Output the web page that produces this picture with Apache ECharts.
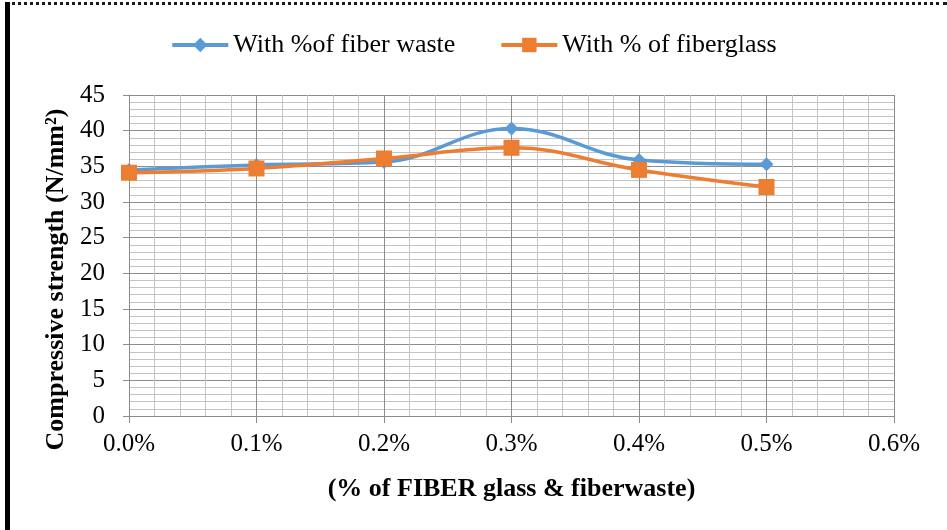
<!DOCTYPE html>
<html>
<head>
<meta charset="utf-8">
<script src="https://cdn.jsdelivr.net/npm/echarts@6/dist/echarts.min.js"></script>
<style>
  html, body { margin: 0; padding: 0; background: #fff; }
  #wrap { position: relative; width: 947px; height: 530px; overflow: hidden; }
  #chart { position: absolute; left: 0; top: 0; width: 947px; height: 530px; }
  #frameTop { position: absolute; left: 5px; top: 2px; width: 942px; height: 0; border-top: 3px dotted #1a1a1a; }
  #frameLeft { position: absolute; left: 5px; top: 2px; width: 5px; height: 528px; background: #000; }
</style>
</head>
<body>
<div id="wrap">
  <div id="chart"></div>
  <div id="frameTop"></div>
  <div id="frameLeft"></div>
</div>
<script>
// Fiber content (%) at each test point
const fiberContent = [0.0, 0.1, 0.2, 0.3, 0.4, 0.5];
// Compressive strength (N/mm²)
const fiberWaste = [34.5, 35.2, 35.6, 40.3, 35.9, 35.3];
const fiberGlass = [34.1, 34.7, 36.1, 37.6, 34.5, 32.1];
const seriesNames = ['With %of fiber waste', 'With % of fiberglass'];
const xTickLabels = ['0.0%', '0.1%', '0.2%', '0.3%', '0.4%', '0.5%', '0.6%'];
const yTickLabels = ['0', '5', '10', '15', '20', '25', '30', '35', '40', '45'];

const FONT = '"Liberation Serif", "Times New Roman", serif';
const pair = (xs, ys) => xs.map((x, i) => [x, ys[i]]);

const chart = echarts.init(document.getElementById('chart'), null, { renderer: 'canvas' });
chart.setOption({
  animation: false,
  textStyle: { fontFamily: FONT },
  legend: {
    top: 27,
    left: 'center',
    itemWidth: 56,
    itemHeight: 18,
    itemGap: 44,
    lineStyle: { width: 4 },
    textStyle: { fontFamily: FONT, fontSize: 26, color: '#000' },
    data: seriesNames
  },
  grid: { left: 129, right: 53, top: 95, bottom: 114 },
  xAxis: {
    type: 'value',
    min: 0,
    max: 0.6,
    interval: 0.1,
    name: '(% of FIBER glass & fiberwaste)',
    nameLocation: 'middle',
    nameGap: 60,
    nameTextStyle: { fontFamily: FONT, fontSize: 26, fontWeight: 'bold', color: '#000' },
    axisLine: { show: true, lineStyle: { color: '#8c8c8c', width: 1 } },
    axisTick: { show: true, length: 7, lineStyle: { color: '#8c8c8c' } },
    axisLabel: {
      margin: 16,
      fontFamily: FONT, fontSize: 25, color: '#000',
      formatter: v => xTickLabels[Math.round(v * 10)]
    },
    splitLine: { show: true, lineStyle: { color: '#8c8c8c', width: 1 } },
    minorTick: { show: false, splitNumber: 5 },
    minorSplitLine: { show: true, lineStyle: { color: '#c4c4c4', width: 1 } }
  },
  yAxis: {
    type: 'value',
    min: 0,
    max: 45,
    interval: 5,
    name: 'Compressive strength (N/mm²)',
    nameLocation: 'middle',
    nameGap: 48,
    nameTextStyle: { fontFamily: FONT, fontSize: 26, fontWeight: 'bold', color: '#000', padding: [0, 48, 0, 0] },
    axisLine: { show: true, lineStyle: { color: '#8c8c8c', width: 1 } },
    axisTick: { show: true, length: 6, lineStyle: { color: '#8c8c8c' } },
    axisLabel: {
      margin: 24,
      fontFamily: FONT, fontSize: 25, color: '#000',
      formatter: v => yTickLabels[Math.round(v / 5)]
    },
    splitLine: { show: true, lineStyle: { color: '#8c8c8c', width: 1 } },
    minorTick: { show: false, splitNumber: 5 },
    minorSplitLine: { show: true, lineStyle: { color: '#c4c4c4', width: 1 } }
  },
  series: [
    {
      name: seriesNames[0],
      type: 'line',
      smooth: 0.4,
      data: pair(fiberContent, fiberWaste),
      symbol: 'diamond',
      symbolSize: 14,
      lineStyle: { color: '#5B9BD5', width: 3.5 },
      itemStyle: { color: '#5B9BD5' },
      z: 3
    },
    {
      name: seriesNames[1],
      type: 'line',
      smooth: 0.4,
      data: pair(fiberContent, fiberGlass),
      symbol: 'rect',
      symbolSize: 16,
      lineStyle: { color: '#ED7D31', width: 3.5 },
      itemStyle: { color: '#ED7D31' },
      z: 4
    }
  ]
});
</script>
</body>
</html>
